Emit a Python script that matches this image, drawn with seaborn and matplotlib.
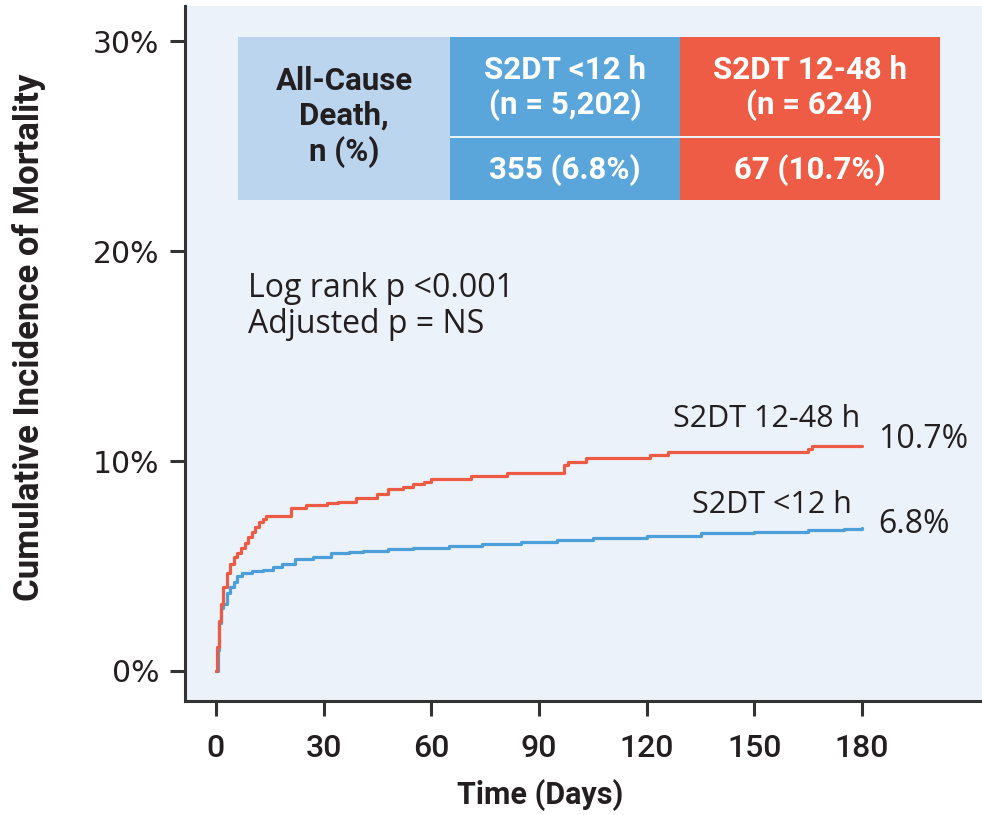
import matplotlib
matplotlib.use("Agg")
import matplotlib.pyplot as plt
from matplotlib.patches import Rectangle
import seaborn as sns
import pandas as pd

# Cumulative incidence step curves (days, %)
early_days = [0, 0.5, 1, 1.5, 2, 3, 4, 5, 6, 7.4, 10, 13, 16, 18.5, 22, 27, 32, 37,
              41, 48, 55, 65, 74, 85, 95, 105, 120, 135, 150, 165, 175, 180]
early_pct = [0, 1.0, 2.3, 3.0, 3.2, 3.7, 4.0, 4.25, 4.5, 4.65, 4.75, 4.8, 4.95, 5.1,
             5.35, 5.45, 5.6, 5.65, 5.7, 5.8, 5.87, 5.95, 6.05, 6.15, 6.25, 6.35,
             6.45, 6.55, 6.62, 6.7, 6.75, 6.8]

late_days = [0, 0.3, 1, 1.5, 2, 3, 4, 5, 6, 7, 8, 9, 10, 11, 12, 13, 14, 21, 25, 31,
             34, 39, 45, 48, 52, 55, 58, 60, 71, 81, 97, 98, 103, 121, 126, 165, 166, 180]
late_pct = [0, 1.15, 2.4, 3.2, 4.0, 4.65, 5.1, 5.45, 5.6, 5.85, 6.1, 6.4, 6.6, 6.85,
            7.1, 7.25, 7.4, 7.75, 7.9, 8.0, 8.05, 8.25, 8.43, 8.67, 8.75, 8.9, 9.0,
            9.14, 9.3, 9.45, 9.8, 9.97, 10.14, 10.3, 10.45, 10.55, 10.7, 10.7]

group_names = ["S2DT <12 h", "S2DT 12-48 h"]
group_n = ["5,202", "624"]
group_deaths = ["355 (6.8%)", "67 (10.7%)"]
final_pct = [6.8, 10.7]

x_ticks = [0, 30, 60, 90, 120, 150, 180]
y_ticks = [0, 10, 20, 30]
y_tick_labels = ["0%", "10%", "20%", "30%"]

BLUE_LINE = "#4c9fd9"
RED_LINE = "#ee5b45"
BLUE_CELL = "#5aa5da"
RED_CELL = "#ef5c46"
LABEL_CELL = "#bcd5ee"
PANEL_BG = "#ebf2fa"
INK = "#231f20"

df = pd.concat([
    pd.DataFrame({"day": early_days, "pct": early_pct, "group": group_names[0]}),
    pd.DataFrame({"day": late_days, "pct": late_pct, "group": group_names[1]}),
], ignore_index=True)

sns.set_theme(style="ticks")
plt.rcParams["font.family"] = ["Open Sans", "DejaVu Sans"]
COND = ["Roboto", "DejaVu Sans"]

fig = plt.figure(figsize=(9.82, 8.15), dpi=100)
ax = fig.add_axes([0.1884, 0.1399, 0.8116, 0.8527])
ax.set_facecolor(PANEL_BG)

sns.lineplot(data=df, x="day", y="pct", hue="group", estimator=None,
             palette={group_names[0]: BLUE_LINE, group_names[1]: RED_LINE},
             drawstyle="steps-post", linewidth=2.3, legend=False, ax=ax)

ax.set_xlim(-8.6, 213.4)
ax.set_ylim(-1.43, 31.67)
ax.set_xticks(x_ticks)
ax.set_xticklabels([str(t) for t in x_ticks], fontfamily=COND, fontweight="medium",
                   fontsize=23)
ax.set_yticks(y_ticks)
ax.set_yticklabels(y_tick_labels, fontfamily=["DejaVu Sans"], fontsize=21.5)
ax.tick_params(axis="both", direction="out", length=10.5, width=2.2, color="#333333",
               labelcolor=INK)
ax.tick_params(axis="x", pad=13)
ax.tick_params(axis="y", pad=8)

for side in ("top", "right"):
    ax.spines[side].set_visible(False)
for side in ("left", "bottom"):
    ax.spines[side].set_linewidth(2.2)
    ax.spines[side].set_color("#333333")

ax.set_xlabel("Time (Days)", fontfamily=COND, fontweight="bold", fontsize=22, color=INK)
ax.set_ylabel("Cumulative Incidence of Mortality", fontfamily=COND, fontweight="bold",
              fontsize=25, color=INK)
ax.xaxis.set_label_coords(0.445, -0.113)
ax.yaxis.set_label_coords(-0.175, 0.524)

# Summary table in the upper part of the panel
tr = ax.transAxes
x0, x1, x2, x3 = 0.0665, 0.3325, 0.621, 0.947
y_bot, y_mid, y_top = 0.7209, 0.810, 0.9554
ax.add_patch(Rectangle((x0, y_bot), x1 - x0, y_top - y_bot, transform=tr,
                       facecolor=LABEL_CELL, edgecolor="none", zorder=3))
for (xa, xb), col in zip([(x1, x2), (x2, x3)], [BLUE_CELL, RED_CELL]):
    ax.add_patch(Rectangle((xa, y_bot), xb - xa, y_mid - y_bot, transform=tr,
                           facecolor=col, edgecolor="none", zorder=3))
    ax.add_patch(Rectangle((xa, y_mid + 0.003), xb - xa, y_top - y_mid - 0.003,
                           transform=tr, facecolor=col, edgecolor="none", zorder=3))

ax.text((x0 + x1) / 2, 0.8403, "All-Cause\nDeath,\nn (%)", transform=tr,
        ha="center", va="center", fontfamily=COND, fontweight="bold", fontsize=22.5,
        color=INK, linespacing=1.22, zorder=4)
for cx, name, n, deaths in zip([(x1 + x2) / 2, (x2 + x3) / 2], group_names,
                               group_n, group_deaths):
    ax.text(cx, 0.882, f"{name}\n(n = {n})", transform=tr, ha="center", va="center",
            fontfamily=COND, fontweight="bold", fontsize=22.5, color="white",
            linespacing=1.15, zorder=4)
    ax.text(cx, 0.764, deaths, transform=tr, ha="center", va="center",
            fontfamily=COND, fontweight="bold", fontsize=22.5, color="white", zorder=4)

# Test statistics
ax.text(8.9, 17.81, "Log rank p <0.001", ha="left", va="baseline", fontsize=23,
        color=INK)
ax.text(8.9, 16.1, "Adjusted p = NS", ha="left", va="baseline", fontsize=23,
        color=INK)

# Curve labels and end values
ax.text(179.4, 11.62, group_names[1], ha="right", va="baseline", fontsize=22, color=INK)
ax.text(184.5, 10.62, f"{final_pct[1]}%", ha="left", va="baseline", fontsize=23,
        color=INK)
ax.text(177.2, 7.52, group_names[0], ha="right", va="baseline", fontsize=22, color=INK)
ax.text(184.5, 6.57, f"{final_pct[0]}%", ha="left", va="baseline", fontsize=23,
        color=INK)

fig.savefig("out.png", dpi=100)
